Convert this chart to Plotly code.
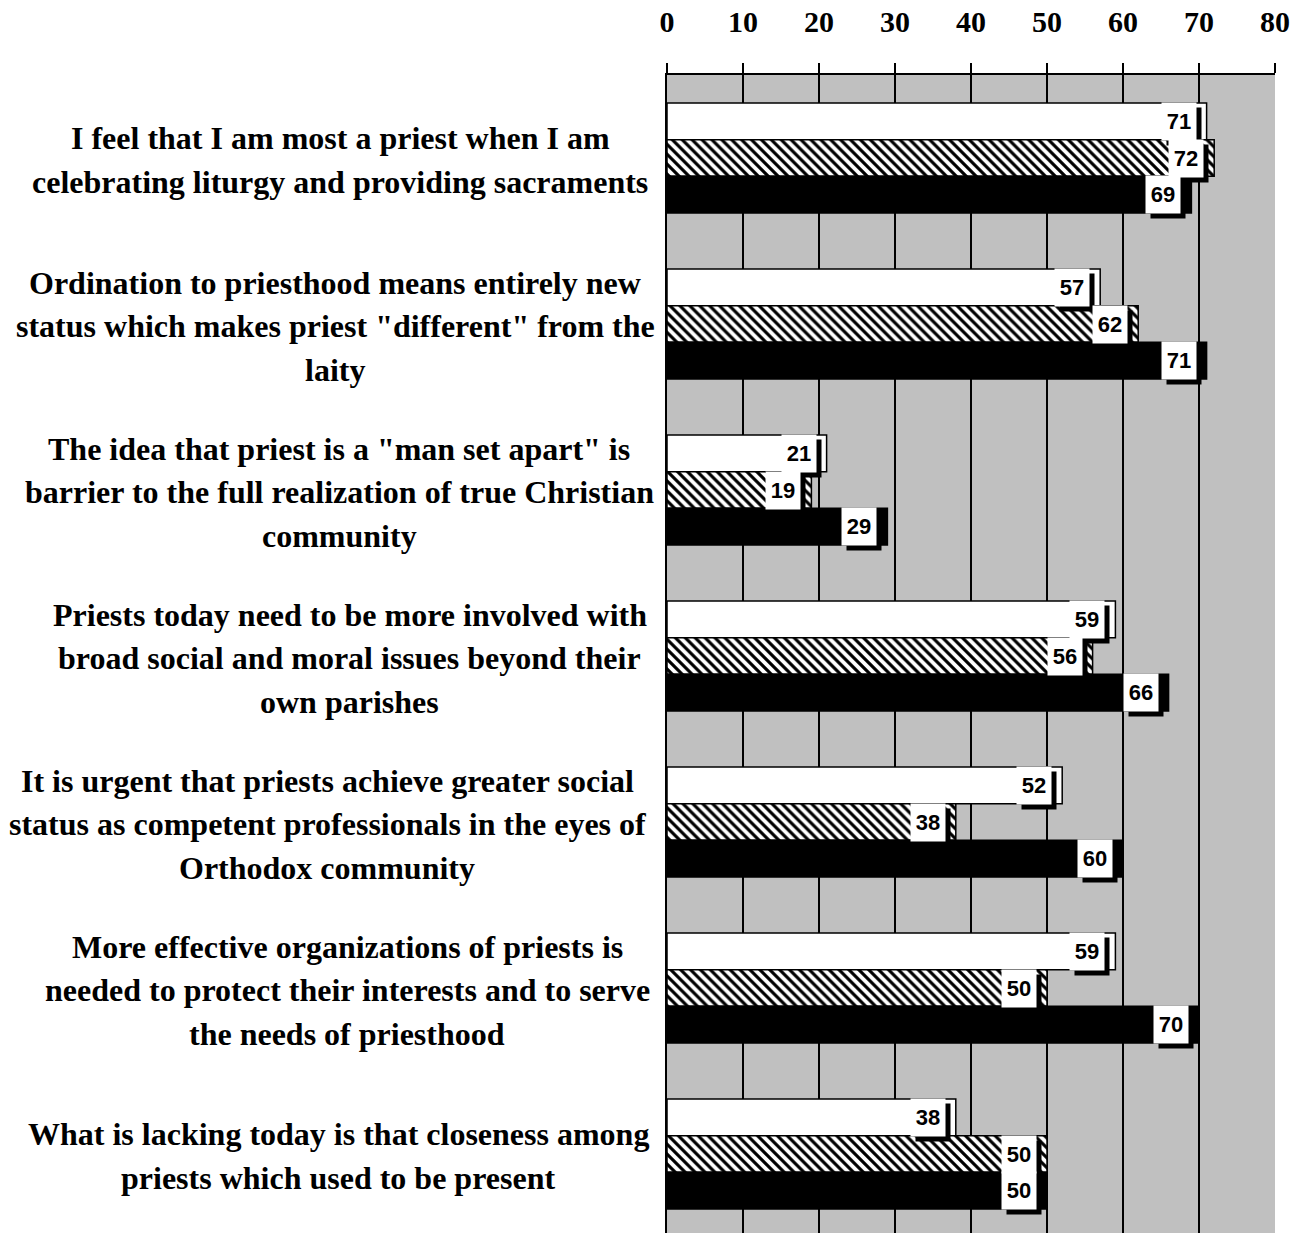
import plotly.graph_objects as go

# ---------------- data ----------------
categories = [
    "I feel that I am most a priest when I am\ncelebrating liturgy and providing sacraments",
    "Ordination to priesthood means entirely new\nstatus which makes priest \"different\" from the\nlaity",
    "The idea that priest is a \"man set apart\" is\nbarrier to the full realization of true Christian\ncommunity",
    "Priests today need to be more involved with\nbroad social and moral issues beyond their\nown parishes",
    "It is urgent that priests achieve greater social\nstatus as competent professionals in the eyes of\nOrthodox community",
    "More effective organizations of priests is\nneeded to protect their interests and to serve\nthe needs of priesthood",
    "What is lacking today is that closeness among\npriests which used to be present",
]
white_vals = [71, 57, 21, 59, 52, 59, 38]
hatched_vals = [72, 62, 19, 56, 38, 50, 50]
black_vals = [69, 71, 29, 66, 60, 70, 50]
x_ticks = [0, 10, 20, 30, 40, 50, 60, 70, 80]

# ---------------- layout constants ----------------
W, H = 1303, 1233
ML, MT = 667, 75
PLOT_W = 608
MR = W - ML - PLOT_W
MB = 0
PLOT_H = H - MT - MB
BAND_PX = 166.0
BARGAP = 0.337
BAR_W = (1 - BARGAP) / 3
LINE_PX = 43.5
# horizontal centre (page px) of each category label block
LABEL_CENTERS = [340, 335, 339, 350, 327, 347, 338]

SERIF = "Liberation Serif"
SANS = "Liberation Sans"

ypos = list(range(len(categories)))

fig = go.Figure()
fig.add_trace(go.Bar(
    y=ypos, x=white_vals, orientation="h",
    marker=dict(color="white", line=dict(color="black", width=1.5)),
    showlegend=False, hoverinfo="x"))
fig.add_trace(go.Bar(
    y=ypos, x=hatched_vals, orientation="h",
    marker=dict(color="white", line=dict(color="black", width=1.5),
                pattern=dict(shape="\\", fgcolor="black", bgcolor="white",
                             size=7, solidity=0.45, fillmode="replace")),
    showlegend=False, hoverinfo="x"))
fig.add_trace(go.Bar(
    y=ypos, x=black_vals, orientation="h",
    marker=dict(color="black", line=dict(color="black", width=1.5)),
    showlegend=False, hoverinfo="x"))

annotations = []
# value labels with drop shadow
for k, vals in enumerate([white_vals, hatched_vals, black_vals]):
    for i, v in enumerate(vals):
        yy = i + (k - 1) * BAR_W
        annotations.append(dict(
            x=v, y=yy, xref="x", yref="y", xanchor="right", yanchor="middle",
            xshift=-5, yshift=-5, text=" ", showarrow=False,
            width=34, height=37, bgcolor="black", borderpad=0,
            font=dict(family=SANS, size=22, color="black")))
        annotations.append(dict(
            x=v, y=yy, xref="x", yref="y", xanchor="right", yanchor="middle",
            xshift=-10, text="<b>%d</b>" % v, showarrow=False,
            width=34, height=37, bgcolor="white", borderpad=0,
            font=dict(family=SANS, size=22, color="black")))

# category labels
for i, cat in enumerate(categories):
    lines = cat.split("\n")
    n = len(lines)
    for j, line in enumerate(lines):
        annotations.append(dict(
            x=(LABEL_CENTERS[i] - ML) / PLOT_W, y=i, xref="paper", yref="y",
            xanchor="center", yanchor="middle",
            yshift=-(j - (n - 1) / 2) * LINE_PX - 2,
            text="<b>%s</b>" % line, showarrow=False,
            font=dict(family=SERIF, size=32, color="black")))

y_bottom = -0.5 + PLOT_H / BAND_PX

fig.update_layout(
    width=W, height=H,
    margin=dict(l=ML, r=MR, t=MT, b=MB, pad=0, autoexpand=False),
    paper_bgcolor="white", plot_bgcolor="#C0C0C0",
    barmode="group", bargap=BARGAP, bargroupgap=0,
    annotations=annotations,
    xaxis=dict(
        side="top", range=[0, 80], tickvals=x_ticks,
        ticktext=["<b>%d</b>" % t for t in x_ticks],
        showgrid=True, gridcolor="black", gridwidth=2,
        zeroline=False, showline=True, linecolor="black", linewidth=2,
        ticks="outside", ticklen=10, tickwidth=2, tickcolor="black",
        ticklabelstandoff=19, automargin=False,
        tickfont=dict(family=SERIF, size=30, color="black"),
        fixedrange=True),
    yaxis=dict(
        range=[y_bottom, -0.5], showticklabels=False, ticks="",
        showgrid=False, zeroline=False, showline=True, automargin=False,
        linecolor="black", linewidth=2, fixedrange=True),
)

fig.write_html(
    "out.html",
    config={"displayModeBar": False},
    post_script="document.body.style.margin='0';document.body.style.overflow='hidden';",
)
